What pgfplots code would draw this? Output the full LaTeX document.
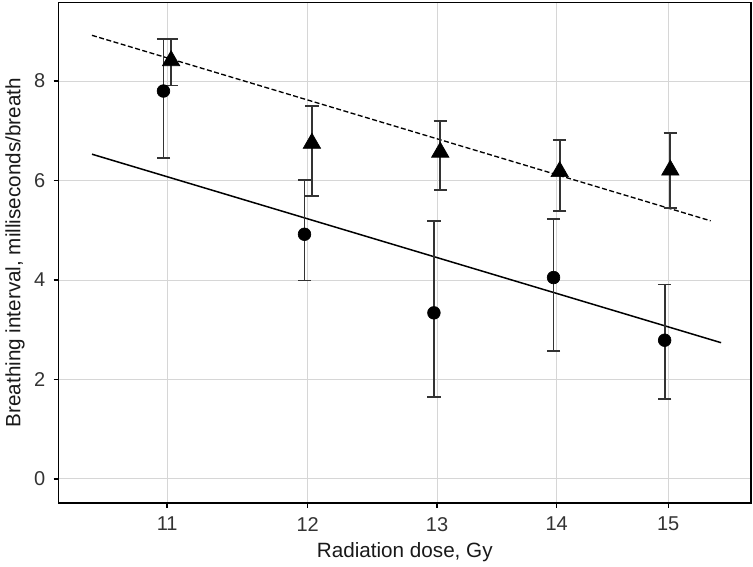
\documentclass[border=0pt]{standalone}
\usepackage{fontspec}
\setmainfont{Liberation Sans}
\usepackage{pgfplots}
\pgfplotsset{compat=1.18}

\begin{document}
\begin{tikzpicture}
\begin{axis}[
  name=ax,
  scale only axis, width=415.5pt, height=300.2pt,
  xmode=log, xmin=10.285, xmax=15.79, ymin=-0.48, ymax=9.58,
  xtick={11,12,13,14,15}, xticklabels={11,12,13,14,15},
  xminorticks=false,
  ytick={0,2,4,6,8},
  grid=major, major grid style={draw=black!16, line width=0.6pt},
  tick align=outside, major tick length=3pt,
  xtick pos=left, ytick pos=left,
  tick style={black, line width=0.8pt},
  axis line style={black, line width=0.8pt},
  /pgf/number format/assume math mode=true,
  tick label style={font=\fontsize{12}{14}\selectfont, text=black!80},
  xticklabel style={yshift=-2pt},
  yticklabel style={xshift=-1.5pt},
  xlabel={Radiation dose, Gy},
  ylabel={Breathing interval, milliseconds/breath},
  every axis x label/.style={at={(axis description cs:0.5,-0.0986)}, anchor=center,
    font=\fontsize{12.4}{14}\selectfont, text=black!90},
  every axis y label/.style={at={(axis description cs:-0.0628,0.5)}, anchor=center, rotate=90,
    font=\fontsize{12.4}{14}\selectfont, text=black!90},
]
% fitted lines
\addplot[black, line width=0.9pt] coordinates {(10.50,6.53) (15.50,2.74)};
\addplot[black, line width=0.8pt, dash pattern=on 3pt off 1.5pt] coordinates {(10.50,8.92) (15.40,5.19)};

% circles
\addplot[only marks, mark=*, mark size=3.8pt, black,
  error bars/.cd, y dir=both, y explicit,
  error bar style={black!80, line width=1.1pt},
  error mark options={rotate=90, mark size=4pt, line width=1.1pt, black!80}]
coordinates {
  (10.975,7.80) += (0,1.04) -= (0,1.34)
  (11.976,4.92) += (0,1.09) -= (0,0.93)
  (12.975,3.34) += (0,1.85) -= (0,1.69)
  (13.972,4.05) += (0,1.18) -= (0,1.47)
  (14.967,2.79) += (0,1.12) -= (0,1.18)
};

% triangles
\addplot[only marks, mark=triangle*, mark size=6pt, black,
  error bars/.cd, y dir=both, y explicit,
  error bar style={black!80, line width=1.1pt},
  error mark options={rotate=90, mark size=4pt, line width=1.1pt, black!80}]
coordinates {
  (11.027,8.41) += (0,0.43) -= (0,0.50)
  (12.031,6.75) += (0,0.75) -= (0,1.06)
  (13.026,6.57) += (0,0.63) -= (0,0.76)
  (14.025,6.18) += (0,0.63) -= (0,0.79)
  (15.020,6.21) += (0,0.74) -= (0,0.77)
};
\end{axis}
\pgfresetboundingbox
\path ([shift={(-35.1pt,-38pt)}]ax.south west) rectangle ([shift={(1.2pt,1.5pt)}]ax.north east);
\end{tikzpicture}
\end{document}
